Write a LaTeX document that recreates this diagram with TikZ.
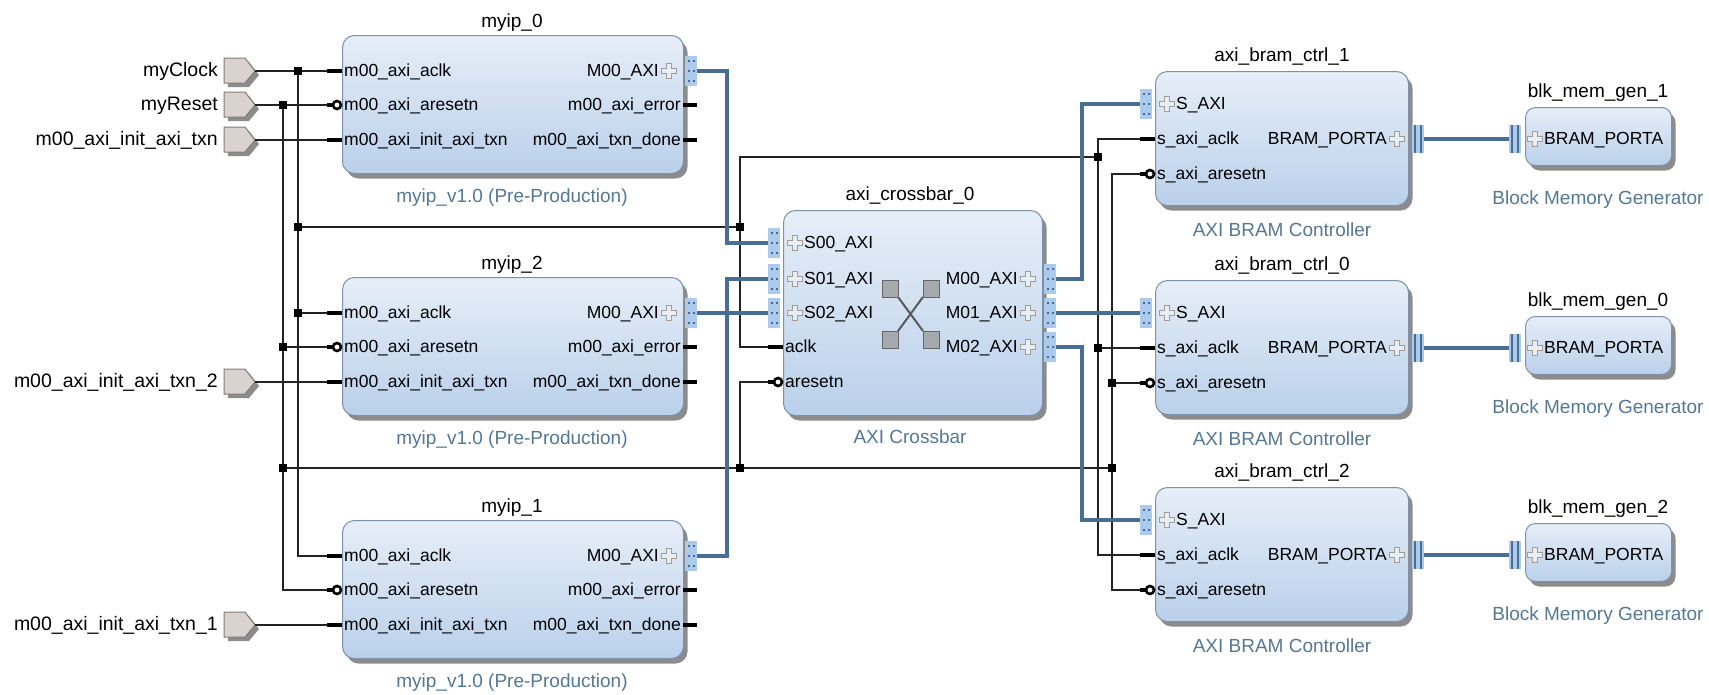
\documentclass[tikz,border=0pt]{standalone}
\usepackage{fontspec}
\setmainfont{Liberation Sans}
\usetikzlibrary{shadows}
\definecolor{boxtop}{RGB}{230,238,248}
\definecolor{boxbot}{RGB}{186,208,235}
\definecolor{boxedge}{RGB}{125,145,170}
\definecolor{busc}{RGB}{72,110,150}
\definecolor{subc}{RGB}{84,120,150}
\definecolor{portfill}{RGB}{218,210,206}
\definecolor{portedge}{RGB}{130,124,122}
\definecolor{ifill}{RGB}{172,202,236}
\definecolor{idot}{RGB}{70,105,150}
\definecolor{plusc}{RGB}{165,155,145}
\definecolor{wirec}{RGB}{35,35,35}
\definecolor{shadc}{RGB}{140,140,140}
\definecolor{sqc}{RGB}{166,170,175}
\tikzset{
  blk/.style={draw=boxedge, line width=1pt, rounded corners=12pt, top color=boxtop, bottom color=boxbot, anchor=north west, inner sep=0pt,
    drop shadow={shadow xshift=4pt, shadow yshift=-5pt, fill=shadc, opacity=1}},
  ttl/.style={font=\fontsize{19}{22}\selectfont, text=black, inner sep=0pt, text height=14pt, text depth=3pt},
  sub/.style={font=\fontsize{19}{22}\selectfont, text=subc, inner sep=0pt, text height=14pt, text depth=3pt},
  lbl/.style={font=\fontsize{17.5}{20}\selectfont, inner sep=0pt, text height=12pt, text depth=2pt},
  plbl/.style={font=\fontsize{19.5}{22}\selectfont, inner sep=0pt, anchor=east, text height=14pt, text depth=2.5pt},
  wire/.style={draw=wirec, line width=1.3pt},
  stub/.style={draw=black, line width=4pt},
  bus/.style={draw=busc, line width=4.5pt},
  jdot/.style={fill=black, minimum size=7pt, inner sep=0pt, rectangle},
}
% plus icon
\newcommand\plusic[2]{%
  \draw[plusc, line width=1.1pt, fill=boxtop] (#1-2.7,#2-7.5) -- (#1+2.7,#2-7.5) -- (#1+2.7,#2-2.7) -- (#1+7.5,#2-2.7) -- (#1+7.5,#2+2.7) -- (#1+2.7,#2+2.7) -- (#1+2.7,#2+7.5) -- (#1-2.7,#2+7.5) -- (#1-2.7,#2+2.7) -- (#1-7.5,#2+2.7) -- (#1-7.5,#2-2.7) -- (#1-2.7,#2-2.7) -- cycle;}
% interface connector: xleft, ycenter
\newcommand\ifconn[2]{%
  \fill[ifill] (#1,#2-15) rectangle (#1+12,#2+15);
  \foreach \dd in {-11,-1,9}{\fill[idot] (#1+2.5,#2+\dd) rectangle ++(2.2,2.2); \fill[idot] (#1+7.5,#2+\dd) rectangle ++(2.2,2.2);}}
% bram connector: xleft, ycenter
\newcommand\bramconn[2]{%
  \fill[ifill] (#1,#2-14) rectangle (#1+12,#2+14);
  \draw[busc, line width=2.5pt] (#1+3,#2-14) -- (#1+3,#2+14);
  \draw[busc, line width=2.5pt] (#1+9,#2-14) -- (#1+9,#2+14);}
% input pin: name, xedge, y, label
\newcommand\pinIn[4]{%
  \draw[stub] (#2-15,#3) -- (#2,#3);
  \coordinate (#1) at (#2-15,#3);
  \node[lbl, anchor=west] (#1-l) at (#2+2,#3) {#4};}
\newcommand\pinInN[4]{%
  \draw[stub] (#2-15,#3) -- (#2-9,#3);
  \draw[black, line width=2.6pt, fill=white] (#2-5,#3) circle (4pt);
  \coordinate (#1) at (#2-15,#3);
  \node[lbl, anchor=west] (#1-l) at (#2+2,#3) {#4};}
\newcommand\pinOut[4]{%
  \draw[stub] (#2,#3) -- (#2+14,#3);
  \coordinate (#1) at (#2+14,#3);
  \node[lbl, anchor=east] (#1-l) at (#2-2,#3) {#4};}
\newcommand\busOutR[4]{%
  \ifconn{#2+2}{#3}
  \coordinate (#1) at (#2+14,#3);
  \plusic{#2-14}{#3}
  \node[lbl, anchor=east] (#1-l) at (#2-24,#3) {#4};}
\newcommand\busInL[4]{%
  \ifconn{#2-15}{#3}
  \coordinate (#1) at (#2-15,#3);
  \plusic{#2+12}{#3}
  \node[lbl, anchor=west] (#1-l) at (#2+21,#3) {#4};}
\newcommand\bramR[4]{%
  \bramconn{#2+4}{#3}
  \coordinate (#1) at (#2+16,#3);
  \plusic{#2-11}{#3}
  \node[lbl, anchor=east] (#1-l) at (#2-21,#3) {#4};}
\newcommand\bramL[4]{%
  \bramconn{#2-16}{#3}
  \coordinate (#1) at (#2-16,#3);
  \plusic{#2+10}{#3}
  \node[lbl, anchor=west] (#1-l) at (#2+19,#3) {#4};}
% external input port: name, y, label
\newcommand\extport[3]{%
  \fill[shadc] (228,#2-9) -- (249,#2-9) -- (259,#2+4) -- (249,#2+16) -- (228,#2+16) -- cycle;
  \filldraw[fill=portfill, draw=portedge, line width=1pt] (224,#2-13) -- (245,#2-13) -- (255,#2) -- (245,#2+12) -- (224,#2+12) -- cycle;
  \coordinate (#1) at (255,#2);
  \node[plbl] (#1-l) at (218,#2) {#3};}
% myip block: name, top, index
\newcommand\myipblock[3]{%
  \node[blk, minimum width=341pt, minimum height=138pt] (#1) at (342,#2) {};
  \node[ttl] (#1-t) at (512,#2-13) {myip\_#3};
  \node[sub] (#1-s) at (512,#2+162) {myip\_v1.0 (Pre-Production)};
  \pinIn{#1-clk}{342}{#2+36}{m00\_axi\_aclk}
  \pinInN{#1-rst}{342}{#2+70}{m00\_axi\_aresetn}
  \pinIn{#1-init}{342}{#2+105}{m00\_axi\_init\_axi\_txn}
  \busOutR{#1-m}{683}{#2+36}{M00\_AXI}
  \pinOut{#1-err}{683}{#2+70}{m00\_axi\_error}
  \pinOut{#1-done}{683}{#2+105}{m00\_axi\_txn\_done}}
% bram controller + block memory: name, top, index
\newcommand\bramblock[3]{%
  \node[blk, minimum width=253pt, minimum height=134pt] (#1) at (1155,#2) {};
  \node[ttl] (#1-t) at (1282,#2-15) {axi\_bram\_ctrl\_#3};
  \node[sub] (#1-s) at (1282,#2+160) {AXI BRAM Controller};
  \busInL{#1-s}{1155}{#2+33}{S\_AXI}
  \pinIn{#1-clk}{1155}{#2+68}{s\_axi\_aclk}
  \pinInN{#1-rst}{1155}{#2+103}{s\_axi\_aresetn}
  \bramR{#1-p}{1408}{#2+68}{BRAM\_PORTA}
  \node[blk, rounded corners=10pt, minimum width=146pt, minimum height=58pt] (bm#3) at (1525,#2+36) {};
  \node[ttl] (bm#3-t) at (1598,#2+21) {blk\_mem\_gen\_#3};
  \node[sub] (bm#3-s) at (1598,#2+128) {Block Memory Generator};
  \bramL{bm#3-p}{1525}{#2+68}{BRAM\_PORTA}}

\begin{document}
\begin{tikzpicture}[x=1pt,y=-1pt]
\fill[white] (0,0) rectangle (1709,694);
\useasboundingbox (0,0) rectangle (1709,694);

% ---------- blocks ----------
\myipblock{ip0}{35}{0}
\myipblock{ip2}{277}{2}
\myipblock{ip1}{520}{1}

\node[blk, minimum width=259pt, minimum height=205pt] (xbar) at (783,210) {};
\node[ttl] (xbar-t) at (910,195) {axi\_crossbar\_0};
\node[sub] (xbar-s) at (910,438) {AXI Crossbar};
\busInL{xb-s0}{783}{243}{S00\_AXI}
\busInL{xb-s1}{783}{279}{S01\_AXI}
\busInL{xb-s2}{783}{313}{S02\_AXI}
\pinIn{xb-clk}{783}{347}{aclk}
\pinInN{xb-rst}{783}{382}{aresetn}
\busOutR{xb-m0}{1042}{279}{M00\_AXI}
\busOutR{xb-m1}{1042}{313}{M01\_AXI}
\busOutR{xb-m2}{1042}{347}{M02\_AXI}
% crossbar icon
\draw[gray!70!black, line width=2pt] (898,297) -- (923,331) (923,297) -- (898,331);
\foreach \sx/\sy in {882/280, 923/280, 882/331, 923/331}{
  \filldraw[fill=sqc, draw=gray!80!black, line width=0.6pt] (\sx,\sy) rectangle ++(16,17);}

\bramblock{bc1}{71}{1}
\bramblock{bc0}{280}{0}
\bramblock{bc2}{487}{2}

% ---------- external ports ----------
\extport{clkp}{71}{myClock}
\extport{rstp}{105}{myReset}
\extport{initp0}{140}{m00\_axi\_init\_axi\_txn}
\extport{initp2}{382}{m00\_axi\_init\_axi\_txn\_2}
\extport{initp1}{625}{m00\_axi\_init\_axi\_txn\_1}

% ---------- junctions ----------
\node[jdot] (jc1) at (298,71) {};
\node[jdot] (jc2) at (298,227) {};
\node[jdot] (jc3) at (298,313) {};
\node[jdot] (jr1) at (283,105) {};
\node[jdot] (jr2) at (283,347) {};
\node[jdot] (jr3) at (283,468) {};
\node[jdot] (jx1) at (740,227) {};
\node[jdot] (jx2) at (740,468) {};
\node[jdot] (jb1) at (1098,157) {};
\node[jdot] (jb2) at (1098,348) {};
\node[jdot] (jb3) at (1112,383) {};
\node[jdot] (jb4) at (1112,468) {};

% ---------- wires ----------
\draw[wire] (clkp) -- (ip0-clk);
\draw[wire] (jc1.center) |- (ip1-clk);
\draw[wire] (jc3.center) -- (ip2-clk);
\draw[wire] (jc2.center) -- (jx1.center);
\draw[wire] (jx1.center) |- (xb-clk);
\draw[wire] (jx1.center) |- (jb1.center);
\draw[wire] (jb1.center) |- (bc1-clk);
\draw[wire] (jb1.center) |- (bc2-clk);
\draw[wire] (jb2.center) -- (bc0-clk);

\draw[wire] (rstp) -- (ip0-rst);
\draw[wire] (jr1.center) |- (ip1-rst);
\draw[wire] (jr2.center) -- (ip2-rst);
\draw[wire] (jr3.center) -- (jb4.center);
\draw[wire] (jx2.center) |- (xb-rst);
\draw[wire] (jb4.center) |- (bc1-rst);
\draw[wire] (jb4.center) |- (bc2-rst);
\draw[wire] (jb3.center) -- (bc0-rst);

\draw[wire] (initp0) -- (ip0-init);
\draw[wire] (initp2) -- (ip2-init);
\draw[wire] (initp1) -- (ip1-init);

% ---------- buses ----------
\draw[bus] (ip0-m) -- ++(30,0) |- (xb-s0);
\draw[bus] (ip2-m) -- (xb-s2);
\draw[bus] (ip1-m) -- ++(30,0) |- (xb-s1);
\draw[bus] (xb-m0) -- ++(26,0) |- (bc1-s);
\draw[bus] (xb-m1) -- (bc0-s);
\draw[bus] (xb-m2) -- ++(26,0) |- (bc2-s);
\draw[bus] (bc1-p) -- (bm1-p);
\draw[bus] (bc0-p) -- (bm0-p);
\draw[bus] (bc2-p) -- (bm2-p);

% junction dots on top
\foreach \j in {jc1,jc2,jc3,jr1,jr2,jr3,jx1,jx2,jb1,jb2,jb3,jb4}{\fill (\j.south west) rectangle (\j.north east);}
\end{tikzpicture}
\end{document}
